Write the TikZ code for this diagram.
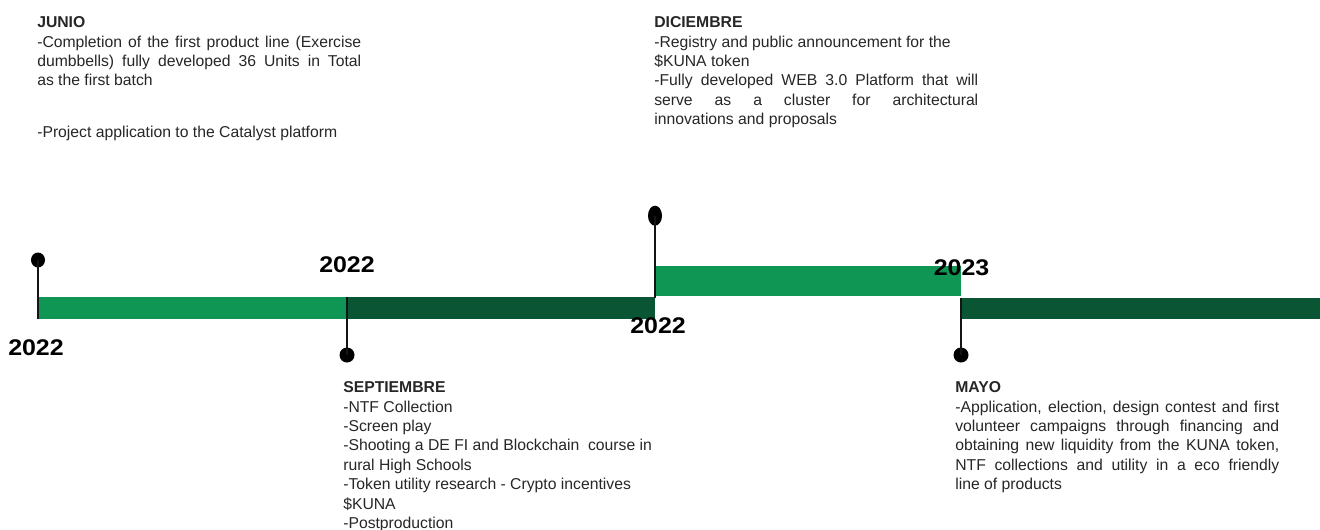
\documentclass[tikz,border=0pt]{standalone}
\usepackage{fontspec}
\usepackage{graphicx}
\setmainfont{Liberation Sans}
\usetikzlibrary{shapes.geometric}
\definecolor{lightg}{RGB}{16,150,84}
\definecolor{darkg}{RGB}{10,86,52}
\definecolor{pinc}{RGB}{20,20,20}
\newcommand{\jl}[1]{\makebox[243pt][s]{#1}}
\newcommand{\yr}[1]{\scalebox{1.1}[1]{#1}}
\tikzset{
  bodytext/.style={anchor=north west, inner sep=0pt, align=left, font=\fontsize{11.8}{14.55}\selectfont, text=black!85},
  yearlbl/.style={inner sep=0pt, font=\fontsize{17}{18}\selectfont\bfseries},
  pindot/.style={ellipse, fill=black, inner sep=0pt},
  pinline/.style={draw=pinc, line width=1.3pt},
}
\begin{document}
\begin{tikzpicture}[x=0.75pt,y=-0.75pt]
\useasboundingbox (0,0) rectangle (1320,529);
\clip (0,0) rectangle (1320,529);
% bars
\fill[lightg] (38,297) rectangle (347,319);
\fill[darkg] (347,297) rectangle (655,319);
\fill[lightg] (655,266) rectangle (961,295.5);
\fill[darkg] (961,298) rectangle (1320,319);
% pins
\node[pindot, minimum width=10.5pt, minimum height=11.25pt] (d1) at (38,260) {};
\coordinate (b1) at (38,319);
\draw[pinline] (d1.center) -- (b1);
\node[pindot, minimum width=11.25pt, minimum height=11.25pt] (d2) at (347,355) {};
\coordinate (b2) at (347,297);
\draw[pinline] (b2) -- (d2.center);
\node[pindot, minimum width=10.5pt, minimum height=15pt] (d3) at (655,215.7) {};
\coordinate (b3) at (655,298);
\draw[pinline] (d3.center) -- (b3);
\node[pindot, minimum width=11.25pt, minimum height=11.25pt] (d4) at (961,355) {};
\coordinate (b4) at (961,298);
\draw[pinline] (b4) -- (d4.center);
% years
\node[yearlbl] (y1) at (36,348) {\yr{2022}};
\node[yearlbl] (y2) at (347,265) {\yr{2022}};
\node[yearlbl] (y3) at (658,326) {\yr{2022}};
\node[yearlbl] (y4) at (961.5,268) {\yr{2023}};
% texts
\node[bodytext] (t1) at (37,14) {\rule{0pt}{10pt}\textbf{JUNIO}\\
\jl{-Completion of the first product line (Exercise}\\
\jl{dumbbells) fully developed 36 Units in Total}\\
as the first batch\\[24.3pt]
-Project application to the Catalyst platform};
\node[bodytext] (t2) at (654,14) {\rule{0pt}{10pt}\textbf{DICIEMBRE}\\
-Registry and public announcement for the\\
\$KUNA token\\
\jl{-Fully developed WEB 3.0 Platform that will}\\
\jl{serve as a cluster for architectural}\\
innovations and proposals};
\node[bodytext] (t3) at (343,379) {\rule{0pt}{10pt}\textbf{SEPTIEMBRE}\\
-NTF Collection\\
-Screen play\\
-Shooting a DE FI and Blockchain\ \ course in\\
rural High Schools\\
-Token utility research - Crypto incentives\\
\$KUNA\\
-Postproduction};
\node[bodytext] (t4) at (955,379) {\rule{0pt}{10pt}\textbf{MAYO}\\
\jl{-Application, election, design contest and first}\\
\jl{volunteer campaigns through financing and}\\
\jl{obtaining new liquidity from the KUNA token,}\\
\jl{NTF collections and utility in a eco friendly}\\
line of products};
\end{tikzpicture}
\end{document}
